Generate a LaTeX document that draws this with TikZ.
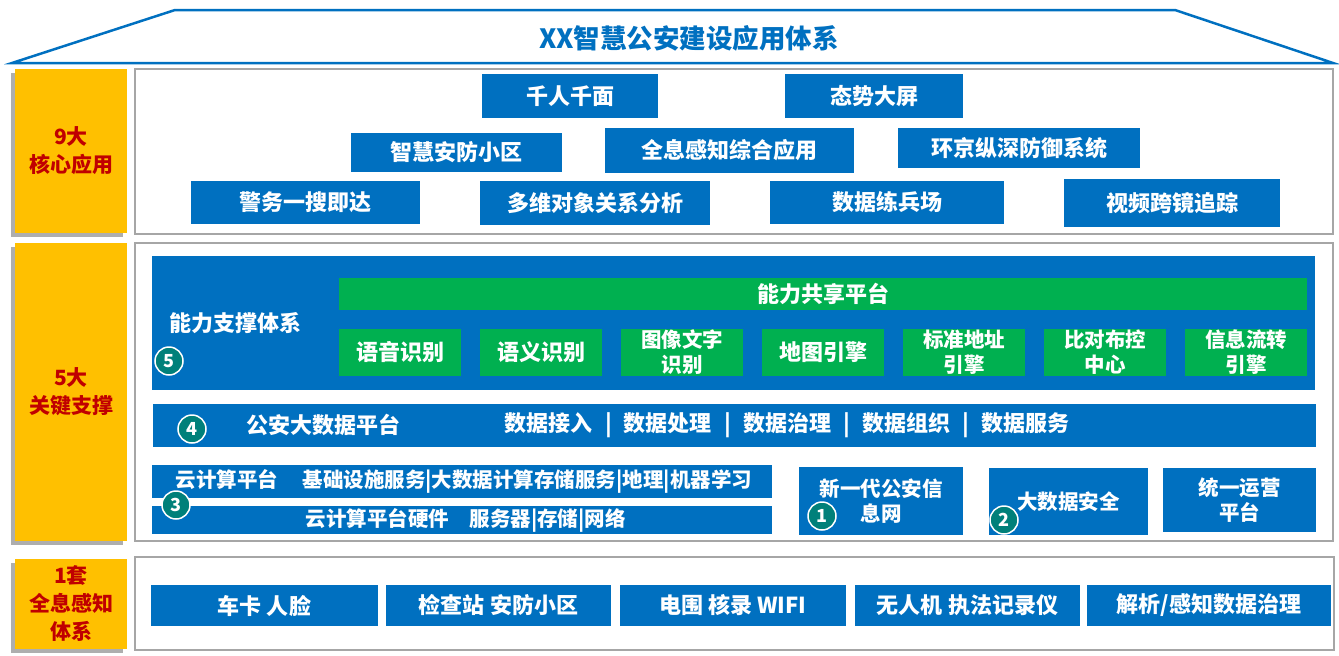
\documentclass[tikz,border=0pt]{standalone}
\usepackage{fontspec}
\setmainfont{Noto Sans CJK SC}
\usetikzlibrary{shadows}
\definecolor{boxblue}{HTML}{0070C0}
\definecolor{boxgreen}{HTML}{00B050}
\definecolor{tagyellow}{HTML}{FFC000}
\definecolor{tagred}{HTML}{C00000}
\definecolor{framegray}{HTML}{A6A6A6}
\definecolor{numteal}{HTML}{00807A}
\newcommand\sepbar{\hspace{0.55em}|\hspace{0.55em}}
\tikzset{
  bluebox/.style={fill=boxblue, text=white, inner sep=0pt, align=center,
    font=\fontsize{22}{26}\selectfont\bfseries},
  greenbox/.style={fill=boxgreen, text=white, inner sep=0pt, align=center,
    font=\fontsize{20.5}{25}\selectfont\bfseries},
  panel/.style={draw=framegray, line width=1.2pt, fill=white, inner sep=0pt},
  tag/.style={fill=tagyellow, text=tagred, inner sep=0pt, align=center,
    font=\fontsize{21}{28}\selectfont\bfseries,
    drop shadow={shadow xshift=-4pt, shadow yshift=-4pt, fill=black!45, opacity=.7}},
  numdot/.style={circle, fill=numteal, draw=white, line width=1.5pt, text=white,
    minimum size=28pt, inner sep=0pt, font=\fontsize{18}{18}\selectfont\bfseries},
}
\begin{document}
\begin{tikzpicture}[x=1pt,y=-1pt]
\useasboundingbox (0,0) rectangle (1339,656);

% roof
\draw[boxblue, line width=2.5pt] (12,63) -- (175,10) -- (1175,10) -- (1333,63) -- cycle;
\node[text=boxblue, font=\fontsize{26.5}{30}\selectfont\bfseries] (title) at (689,38) {XX智慧公安建设应用体系};

% yellow tags and panels
\node[tag, minimum width=112, minimum height=164] (tagA) at (71,151) {9大\\核心应用};
\node[tag, minimum width=112, minimum height=298] (tagB) at (71,392) {5大\\关键支撑};
\node[tag, minimum width=112, minimum height=90] (tagC) at (71,604) {1套\\全息感知\\体系};
\node[panel, minimum width=1198, minimum height=165] (panelA) at (734,151.5) {};
\node[panel, minimum width=1198, minimum height=298] (panelB) at (734,392) {};
\node[panel, minimum width=1199, minimum height=93] (panelC) at (734.5,603.5) {};

% 9 applications
\node[bluebox, minimum width=176, minimum height=44] (app1) at (570,96) {千人千面};
\node[bluebox, minimum width=178, minimum height=44] (app2) at (874,96) {态势大屏};
\node[bluebox, minimum width=211, minimum height=39] (app3) at (456.5,152.5) {智慧安防小区};
\node[bluebox, minimum width=249, minimum height=45] (app4) at (729.5,150.5) {全息感知综合应用};
\node[bluebox, minimum width=242, minimum height=40] (app5) at (1019,148) {环京纵深防御系统};
\node[bluebox, minimum width=229, minimum height=43] (app6) at (305.5,202.5) {警务一搜即达};
\node[bluebox, minimum width=230, minimum height=44] (app7) at (595,203) {多维对象关系分析};
\node[bluebox, minimum width=234, minimum height=43] (app8) at (887,202.5) {数据练兵场};
\node[bluebox, minimum width=216, minimum height=48] (app9) at (1172,203) {视频跨镜追踪};

% 5 supports
\node[bluebox, minimum width=1163, minimum height=134] (ability) at (733.5,323) {};
\node[greenbox, minimum width=968, minimum height=32, font=\fontsize{22}{26}\selectfont\bfseries] (share) at (823,294) {能力共享平台};
\foreach \i/\fs/\txt in {0/22/语音识别,1/22/语义识别,2/20.5/{图像文字\\识别},3/22/地图引擎,4/20.5/{标准地址\\引擎},5/20.5/{比对布控\\中心},6/20.5/{信息流转\\引擎}}
  \node[greenbox, minimum width=122, minimum height=47, font=\fontsize{\fs}{25}\selectfont\bfseries] (cap\i) at ({400+141*\i},352.5) {\txt};
\node[anchor=west, text=white, font=\fontsize{22}{26}\selectfont\bfseries] (abilitytxt) at (166,323) {能力支撑体系};
\node[numdot] (num5) at (169,361) {5};

\node[bluebox, minimum width=1163, minimum height=43] (bigdata) at (734.5,425.5) {};
\node[text=white, font=\fontsize{22}{26}\selectfont\bfseries] (bigdatatxt) at (323,425) {公安大数据平台};
\node[text=white, font=\fontsize{22}{26}\selectfont\bfseries] (bigdatasvc) at (787,425)
  {数据接入\sepbar 数据处理\sepbar 数据治理\sepbar 数据组织\sepbar 数据服务};
\node[numdot] (num4) at (192,429) {4};

\node[bluebox, minimum width=620, minimum height=33] (cloud) at (462,481.5) {};
\node[bluebox, minimum width=620, minimum height=28] (cloudhw) at (462,520) {};
\node[anchor=west, text=white, font=\fontsize{20.5}{24}\selectfont\bfseries] (cloudtxt) at (172,481)
  {云计算平台\hspace{1.2em}基础设施服务|大数据计算存储服务|地理|机器学习};
\node[anchor=west, text=white, font=\fontsize{20.5}{24}\selectfont\bfseries] (cloudhwtxt) at (302,520)
  {云计算平台硬件\hspace{1em}服务器|存储|网络};
\node[numdot] (num3) at (176,505) {3};

\node[bluebox, minimum width=164, minimum height=68, font=\fontsize{20.5}{25}\selectfont\bfseries] (net) at (881,501) {新一代公安信\\息网};
\node[bluebox, minimum width=159, minimum height=67, font=\fontsize{20.5}{25}\selectfont\bfseries] (safe) at (1068.5,501.5) {大数据安全};
\node[bluebox, minimum width=153, minimum height=64, font=\fontsize{20.5}{25}\selectfont\bfseries] (ops) at (1239.5,500) {统一运营\\平台};
\node[numdot] (num1) at (822,516) {1};
\node[numdot] (num2) at (1004,520) {2};

% 1 sensing system
\foreach \n/\cx/\w/\txt in {1/264.5/227/车卡 人脸,2/498.5/225/检查站 安防小区,3/733/226/电围 核录 WIFI,4/967.5/225/无人机 执法记录仪,5/1209/244/{解析/感知数据治理}}
  \node[bluebox, minimum width=\w, minimum height=41] (sense\n) at (\cx,605.5) {\txt};
\end{tikzpicture}
\end{document}
